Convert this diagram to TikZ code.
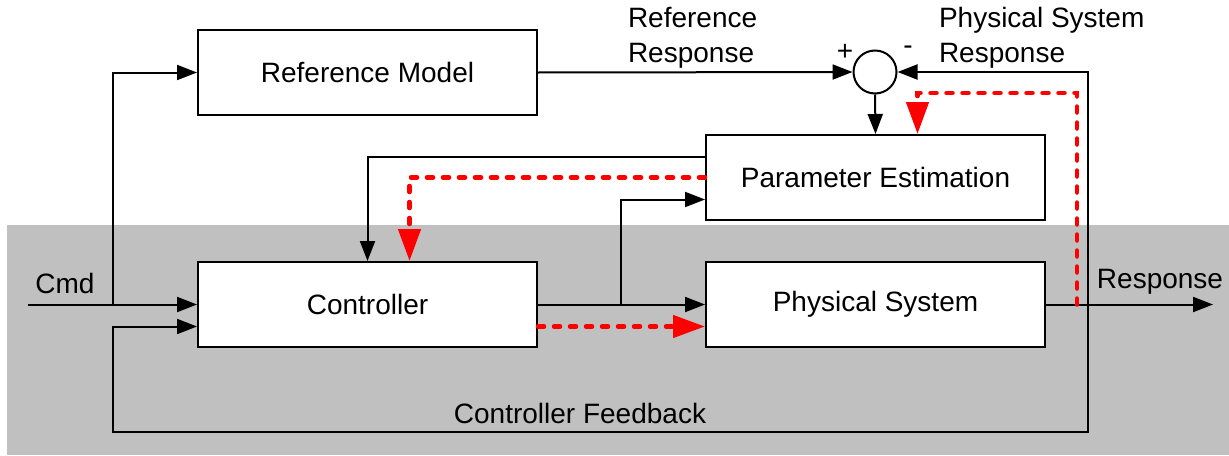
\documentclass[tikz,border=0pt]{standalone}
\usepackage{fontspec}
\setmainfont{Liberation Sans}
\usepackage{tikz}
\usetikzlibrary{arrows.meta}

\definecolor{plantshade}{RGB}{192,192,192}
\definecolor{adaptred}{RGB}{255,0,0}

\begin{document}
\begin{tikzpicture}[x=0.5pt,y=-0.5pt,>={Triangle[length=10pt,width=7.5pt]},line width=1pt,
        font=\fontsize{14}{17.5}\selectfont]
    \tikzstyle{block}=[draw=black,fill=white,inner sep=0pt,minimum width=169.5pt,minimum height=42.5pt]
    \tikzstyle{junction}=[draw=black,fill=white,circle,inner sep=0pt,minimum size=21.5pt]
    \tikzstyle{adapt}=[draw=adaptred,line width=2.25pt,line cap=round,dash pattern=on 3pt off 5pt,
        -{Triangle[length=16pt,width=11pt]},adaptred]
    \tikzstyle{lbl}=[inner sep=0pt]
    \useasboundingbox (0,0) rectangle (1229,455);
    % plant side
    \fill[plantshade] (7,225) rectangle (1229,455);

    \node[block] (refmodel) at (367.5,72.5) {Reference Model};
    \node[block] (ctrl) at (367.5,304.5) {Controller};
    \node[block] (paramest) at (875.5,177.5) {Parameter Estimation};
    \node[block] (plant) at (875.5,304.5) {Physical System};
    \node[junction] (sum) at (875,72) {};

    \coordinate (cmd) at (28,304.5);
    \coordinate (split) at (113,304.5);
    \coordinate (tap) at (621,304.5);
    \coordinate (fb) at (1088,304.5);
    \coordinate (fbbot) at (113,432);
    \coordinate (out) at (1213,304.5);
    \coordinate (redup) at (1077,304.5);
    \coordinate (redtop) at (1077,93);

    % signal paths
    \draw[->] (cmd) -- (ctrl.west);
    \draw[->] (split) |- (refmodel.west);
    \draw[->] (refmodel.east) -- (sum.west);
    \draw[->] (sum.south) -- (paramest.north);
    \draw[->] (ctrl.east) -- (plant.west);
    \draw[->] (tap) |- ([yshift=-11pt]paramest.west);
    \draw[->] ([yshift=10.5pt]paramest.west) -| (ctrl.north);
    \draw[->] (plant.east) -- (out);
    \draw[->] (fb) |- (sum.east);
    \draw[->] (fb) |- (fbbot) |- ([yshift=-11pt]ctrl.west);

    % adaptation flow
    \draw[adapt] (paramest.west) -| ([xshift=21pt]ctrl.north);
    \draw[adapt] ([yshift=-11pt]ctrl.east) -- ([yshift=-11pt]plant.west);
    \draw[adapt] (redup) -- (redtop) -| ([xshift=21pt]paramest.north);

    % labels
    \node[lbl,anchor=west,align=left] (refresp) at (627,38) {Reference\\Response};
    \node[lbl,anchor=west,align=left] (plantresp) at (938,38) {Physical System\\Response};
    \node[lbl] (plus) at (845,52) {+};
    \node[lbl] (minus) at (908,50) {-};
    \node[lbl] (cmdlbl) at (65,283) {Cmd};
    \node[lbl] (outlbl) at (1160,282) {Response};
    \node[lbl] (fblbl) at (580,413) {Controller Feedback};
\end{tikzpicture}
\end{document}
